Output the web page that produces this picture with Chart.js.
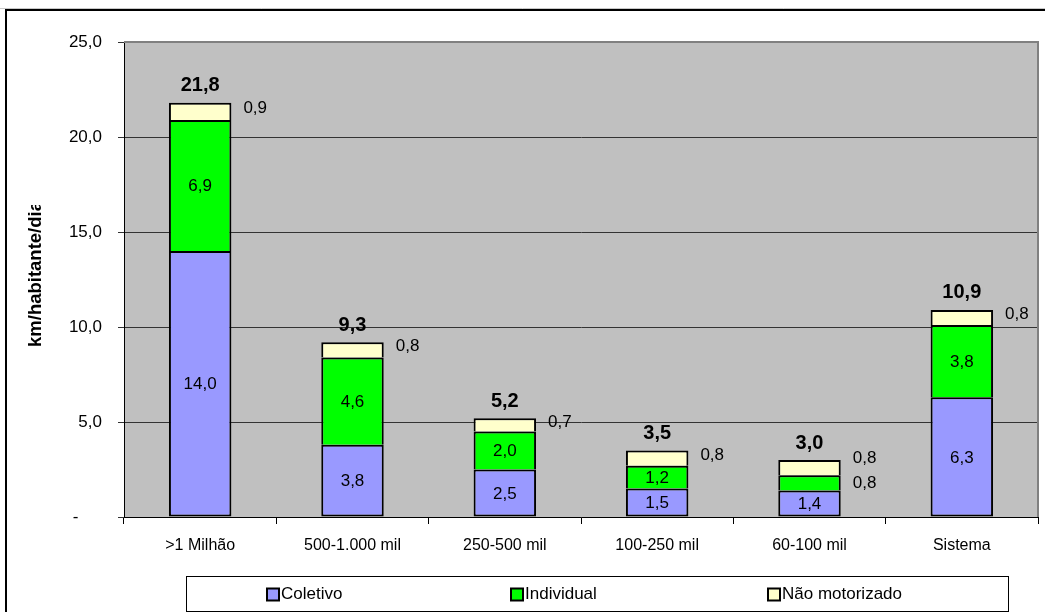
<!DOCTYPE html>
<html>
<head>
<meta charset="utf-8">
<script src="https://cdn.jsdelivr.net/npm/chart.js@4"></script>
<style>
  html, body { margin: 0; padding: 0; background: #fff; }
  #c { display: block; }
</style>
</head>
<body>
<canvas id="c" width="1045" height="612"></canvas>
<script>
const categories = ['>1 Milhão', '500-1.000 mil', '250-500 mil', '100-250 mil', '60-100 mil', 'Sistema'];
const coletivo = [14.0, 3.8, 2.5, 1.5, 1.4, 6.3];
const individual = [6.9, 4.6, 2.0, 1.2, 0.8, 3.8];
const naoMotorizado = [0.9, 0.8, 0.7, 0.8, 0.8, 0.8];
const totais = [21.8, 9.3, 5.2, 3.5, 3.0, 10.9];
const seriesNames = ['Coletivo', 'Individual', 'Não motorizado'];
const yTicks = [0, 5, 10, 15, 20, 25];
const yTitle = 'km/habitante/dia';

const COLORS = ['#9999FF', '#00FF00', '#FFFFCC'];
const FONT = 'Liberation Sans, Arial, sans-serif';
const fmt = v => v.toFixed(1).replace('.', ',');

const bgPlugin = {
  id: 'bg',
  beforeDraw(chart) {
    const { ctx, chartArea: a } = chart;
    ctx.save();
    ctx.fillStyle = '#fff';
    ctx.fillRect(0, 0, chart.width, chart.height);
    ctx.strokeStyle = '#c8c8c8';
    ctx.lineWidth = 1;
    ctx.beginPath(); ctx.moveTo(0, 8.5); ctx.lineTo(chart.width, 8.5); ctx.stroke();
    ctx.strokeStyle = '#000';
    ctx.lineWidth = 2;
    ctx.beginPath();
    ctx.moveTo(6, chart.height); ctx.lineTo(6, 10); ctx.lineTo(chart.width, 10);
    ctx.stroke();
    ctx.fillStyle = '#C0C0C0';
    ctx.fillRect(a.left, a.top, a.right - a.left, a.bottom - a.top);
    ctx.restore();
  },
  afterDraw(chart) {
    const { ctx, chartArea: a } = chart;
    ctx.save();
    ctx.strokeStyle = '#808080';
    ctx.lineWidth = 2;
    ctx.beginPath();
    ctx.moveTo(a.left, a.top); ctx.lineTo(a.right, a.top); ctx.lineTo(a.right, a.bottom);
    ctx.stroke();
    ctx.beginPath();
    ctx.rect(0, 205, 120, 400);
    ctx.clip();
    ctx.translate(36, 347);
    ctx.rotate(-Math.PI / 2);
    ctx.fillStyle = '#000';
    ctx.font = 'bold 18.5px ' + FONT;
    ctx.textAlign = 'left';
    ctx.textBaseline = 'middle';
    ctx.fillText(yTitle, 0, 0);
    ctx.restore();

    ctx.save();
    const lx = 186, ly = 576, lw = 822, lh = 35;
    ctx.fillStyle = '#fff';
    ctx.fillRect(lx, ly, lw, lh);
    ctx.strokeStyle = '#000';
    ctx.lineWidth = 1;
    ctx.strokeRect(lx + 0.5, ly + 0.5, lw, lh);
    const itemX = [267, 511, 768];
    const cy = ly + lh / 2 + 1;
    ctx.font = '17px ' + FONT;
    ctx.textBaseline = 'middle';
    ctx.textAlign = 'left';
    chart.data.datasets.forEach((ds, i) => {
      const x = itemX[i];
      ctx.fillStyle = ds.backgroundColor;
      ctx.fillRect(x, cy - 6, 12, 12);
      ctx.strokeStyle = '#000';
      ctx.lineWidth = 2;
      ctx.strokeRect(x, cy - 6, 12, 12);
      ctx.fillStyle = '#000';
      ctx.fillText(ds.label, x + 14, cy);
    });
    ctx.restore();
  }
};

const labelPlugin = {
  id: 'labels',
  afterDatasetsDraw(chart) {
    const { ctx } = chart;
    ctx.save();
    ctx.fillStyle = '#000';
    ctx.textBaseline = 'middle';
    const metas = chart.data.datasets.map((d, i) => chart.getDatasetMeta(i));
    chart.data.labels.forEach((lab, j) => {
      let lastOutsideY = null;
      metas.forEach((meta, i) => {
        const el = meta.data[j];
        const val = chart.data.datasets[i].data[j];
        const h = Math.abs(el.base - el.y);
        const mid = (el.y + el.base) / 2;
        ctx.font = '17px ' + FONT;
        if (i < 2 && h >= 18) {
          ctx.textAlign = 'center';
          ctx.fillText(fmt(val), el.x, mid + 1);
        } else {
          ctx.textAlign = 'left';
          let y = i < 2 ? mid + 1 : mid - 3;
          if (lastOutsideY !== null) y = Math.min(y, lastOutsideY - 25);
          ctx.fillText(fmt(val), el.x + el.width / 2 + 12, y);
          lastOutsideY = y;
        }
      });
      const top = metas[2].data[j];
      ctx.font = 'bold 20px ' + FONT;
      ctx.textAlign = 'center';
      ctx.fillText(fmt(totais[j]), top.x, top.y - 17);
    });
    ctx.restore();
  }
};

const datasets = [coletivo, individual, naoMotorizado].map((d, i) => ({
  label: seriesNames[i],
  data: d,
  backgroundColor: COLORS[i],
  borderColor: '#000',
  borderWidth: { top: 2, left: 2, right: 2, bottom: i === 0 ? 2 : 0 },
  borderSkipped: false,
  barPercentage: 0.41,
  categoryPercentage: 1.0
}));

new Chart(document.getElementById('c'), {
  type: 'bar',
  data: { labels: categories, datasets },
  options: {
    responsive: false,
    animation: false,
    devicePixelRatio: 1,
    layout: { padding: { top: 42, right: 7, left: 0, bottom: 0 } },
    plugins: { legend: { display: false }, tooltip: { enabled: false } },
    scales: {
      x: {
        stacked: true,
        grid: { drawOnChartArea: false, offset: true, tickLength: 7, color: '#000' },
        border: { color: '#000', width: 1 },
        ticks: { color: '#000', font: { family: FONT, size: 16 }, padding: 12, maxRotation: 0 },
        afterFit(s) { s.height = 95; }
      },
      y: {
        stacked: true,
        min: 0,
        max: 25,
        afterBuildTicks(s) { s.ticks = yTicks.map(v => ({ value: v })); },
        ticks: {
          color: '#000',
          font: { family: FONT, size: 17 },
          padding: 16,
          callback: v => v === 0 ? '-     ' : fmt(v)
        },
        grid: { color: '#333', tickLength: 6, lineWidth: 1 },
        border: { color: '#000', width: 1 },
        afterFit(s) { s.width = 124; }
      }
    }
  },
  plugins: [bgPlugin, labelPlugin]
});
</script>
</body>
</html>
